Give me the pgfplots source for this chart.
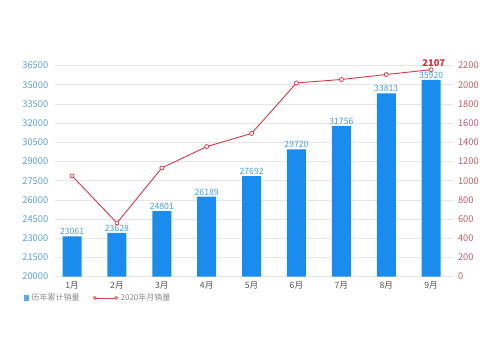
\documentclass[border=0pt]{standalone}
\usepackage{pgfplots}
\pgfplotsset{compat=1.18}
\usepackage{fontspec}
\setmainfont{Noto Sans CJK SC}
\definecolor{barblue}{HTML}{1A8CEE}
\definecolor{barlegend}{HTML}{5AAAE6}
\definecolor{linered}{HTML}{D2404F}
\definecolor{labelred}{HTML}{D7263A}
\definecolor{lefttick}{HTML}{5E9FCF}
\definecolor{righttick}{HTML}{C25A6E}
\definecolor{barlabel}{HTML}{4A9ED8}
\definecolor{gridgray}{HTML}{E6E6E6}
\definecolor{xtickgray}{HTML}{555555}
\definecolor{legendgray}{HTML}{8A8A8A}
\begin{document}
\begin{tikzpicture}
\useasboundingbox (0,0) rectangle (375pt,271.5pt);
\begin{axis}[
  at={(41.25pt,64pt)}, anchor=south west,
  scale only axis, width=296.25pt, height=158.25pt,
  xmin=-0.38, xmax=8.42, ymin=20000, ymax=36500,
  ytick={20000,21500,...,36500},
  xtick={0,...,8},
  xticklabels={1月,2月,3月,4月,5月,6月,7月,8月,9月},
  ymajorgrids, grid style={color=gridgray, line width=0.6pt},
  axis line style={draw=none}, major tick length=0pt,
  clip=false,
  scaled y ticks=false,
  yticklabel style={font=\fontsize{7}{8}\selectfont, color=lefttick, xshift=-1.5pt},
  xticklabel style={font=\fontsize{6.5}{8}\selectfont, color=xtickgray},
  /pgf/number format/assume math mode=true,
  /pgf/number format/.cd, fixed, set thousands separator={}, /pgfplots/.cd,
  legend columns=2,
  legend style={draw=none, fill=none, at={(-0.09,-0.101)}, anchor=west,
    font=\fontsize{6}{7}\selectfont, text=legendgray,
    /tikz/every even column/.append style={column sep=8pt}},
]
\addplot[ybar, bar width=14.25pt, fill=barblue, draw=none,
  nodes near coords, point meta=explicit symbolic,
  nodes near coords style={font=\fontsize{6.5}{7}\selectfont, color=barlabel, anchor=south, inner sep=0.8pt},
  legend image code/.code={\fill[barlegend] (0pt,-2pt) rectangle (4pt,2pt);}]
  table[meta=label] {
x y label
0 23150 23061
1 23420 23628
2 25130 24801
3 26260 26189
4 27860 27692
5 29950 29720
6 31790 31756
7 34330 33813
8 35380 35920
};
\addlegendentry{历年累计销量}
\addlegendimage{legend image code/.code={
  \draw[linered, line width=0.6pt] (0pt,0pt) -- (16pt,0pt);
  \draw[linered, fill=white, line width=0.5pt] (0pt,0pt) circle (1.1pt);
  \draw[linered, fill=white, line width=0.5pt] (16pt,0pt) circle (1.1pt);}}
\addlegendentry{2020年月销量}
\end{axis}
\begin{axis}[
  at={(41.25pt,64pt)}, anchor=south west,
  scale only axis, width=296.25pt, height=158.25pt,
  xmin=-0.38, xmax=8.42, ymin=0, ymax=2200,
  ytick={0,200,...,2200},
  axis y line*=right, axis x line=none,
  axis line style={draw=none},
  tick align=outside, major tick length=2.5pt,
  ytick style={draw=gridgray, line width=0.6pt},
  clip=false,
  yticklabel style={font=\fontsize{7}{8}\selectfont, color=righttick},
  /pgf/number format/assume math mode=true,
  /pgf/number format/.cd, fixed, set thousands separator={}, /pgfplots/.cd,
]
\addplot[color=linered, line width=0.7pt, mark=*, mark size=1.5pt,
  mark options={fill=white, draw=linered, line width=0.6pt}]
  coordinates {(0,1051) (1,560) (2,1134) (3,1356) (4,1494) (5,2020) (6,2056) (7,2108) (8,2158)};
\node[font=\fontsize{7}{8}\selectfont\bfseries, color=labelred, anchor=south, inner sep=0.5pt, xshift=2pt, yshift=1.5pt] at (axis cs:8,2158) {2107};
\end{axis}
\end{tikzpicture}
\end{document}
